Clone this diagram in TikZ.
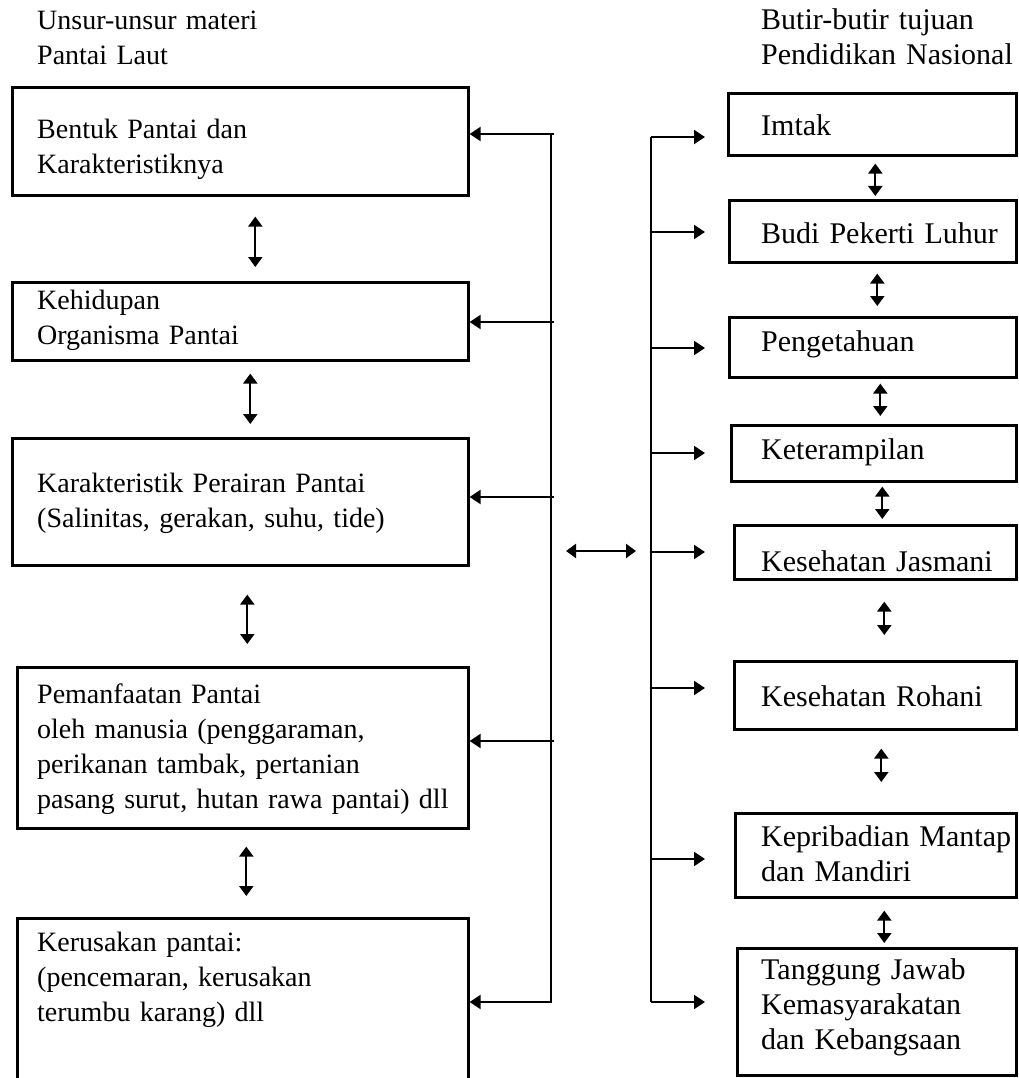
\documentclass[tikz,border=0pt]{standalone}
\usepackage{fontspec}
\setmainfont{Liberation Serif}
\usetikzlibrary{arrows.meta}

\tikzset{
  kotak/.style={draw, line width=2.6pt, anchor=north west, inner sep=0pt},
  teks/.style={anchor=base west, inner sep=0pt, text width=450pt, align=left},
  tekskiri/.style={teks, font=\fontsize{28}{35}\selectfont},
  tekskanan/.style={teks, font=\fontsize{30}{35}\selectfont},
  garis/.style={line width=2.2pt},
  pnh/.style={line width=2.2pt, -{Triangle[length=11pt,width=14pt]}},
  dua/.style={line width=2.2pt, {Triangle[length=10pt,width=14pt]}-{Triangle[length=10pt,width=14pt]}},
}

\begin{document}
\begin{tikzpicture}[x=1pt, y=-1pt]
  \useasboundingbox (0,0) rectangle (1018,1078);

  % judul kolom
  \node[tekskiri] (judul1) at (37,30) {Unsur-unsur materi\\Pantai Laut};
  \node[tekskanan] (judul2) at (761,30) {Butir-butir tujuan\\Pendidikan Nasional};

  % kotak kiri: unsur materi pantai laut
  \node[kotak, minimum width=456pt, minimum height=108pt] (b1) at (11,86) {};
  \node[kotak, minimum width=456pt, minimum height=78pt] (b2) at (11,281) {};
  \node[kotak, minimum width=456pt, minimum height=127pt] (b3) at (11,437) {};
  \node[kotak, minimum width=451pt, minimum height=161pt] (b4) at (16,666) {};
  \node[kotak, minimum width=451pt, minimum height=175pt] (b5) at (16,917) {};
  \node[tekskiri] (tb1) at (37,139) {Bentuk Pantai dan\\Karakteristiknya};
  \node[tekskiri] (tb2) at (37,309) {Kehidupan\\Organisma Pantai};
  \node[tekskiri] (tb3) at (37,492) {Karakteristik Perairan Pantai\\(Salinitas, gerakan, suhu, tide)};
  \node[tekskiri] (tb4) at (37,703) {Pemanfaatan Pantai\\oleh manusia (penggaraman,\\perikanan tambak, pertanian\\pasang surut, hutan rawa pantai) dll};
  \node[tekskiri] (tb5) at (37,951) {Kerusakan pantai:\\(pencemaran, kerusakan\\terumbu karang) dll};

  % kotak kanan: butir tujuan pendidikan
  \node[kotak, minimum width=288pt, minimum height=62pt] (r1) at (727,92) {};
  \node[kotak, minimum width=287pt, minimum height=62pt] (r2) at (728,199) {};
  \node[kotak, minimum width=287pt, minimum height=60pt] (r3) at (728,316) {};
  \node[kotak, minimum width=285pt, minimum height=56pt] (r4) at (730,424) {};
  \node[kotak, minimum width=282pt, minimum height=54pt] (r5) at (733,524) {};
  \node[kotak, minimum width=282pt, minimum height=68pt] (r6) at (733,660) {};
  \node[kotak, minimum width=281pt, minimum height=84pt] (r7) at (734,812) {};
  \node[kotak, minimum width=279pt, minimum height=127pt] (r8) at (736,947) {};
  \node[tekskanan] (tr1) at (761,136) {Imtak};
  \node[tekskanan] (tr2) at (761,243) {Budi Pekerti Luhur};
  \node[tekskanan] (tr3) at (761,351) {Pengetahuan};
  \node[tekskanan] (tr4) at (761,459) {Keterampilan};
  \node[tekskanan] (tr5) at (761,571) {Kesehatan Jasmani};
  \node[tekskanan] (tr6) at (761,706) {Kesehatan Rohani};
  \node[tekskanan] (tr7) at (761,846) {Kepribadian Mantap\\dan Mandiri};
  \node[tekskanan] (tr8) at (761,979) {Tanggung Jawab\\Kemasyarakatan\\dan Kebangsaan};

  % panah antar kotak kiri
  \draw[dua] ([xshift=15pt,yshift=-20pt]b1.south) -- ([xshift=15pt,yshift=14pt]b2.north);
  \draw[dua] ([xshift=10pt,yshift=-12pt]b2.south) -- ([xshift=10pt,yshift=13pt]b3.north);
  \draw[dua] ([xshift=7pt,yshift=-28pt]b3.south) -- ([xshift=4.5pt,yshift=22pt]b4.north);
  \draw[dua] ([xshift=3.5pt,yshift=-17pt]b4.south) -- ([xshift=3.5pt,yshift=21pt]b5.north);

  % panah antar kotak kanan
  \draw[dua] ([xshift=3pt,yshift=-7pt]r1.south) -- ([xshift=2.5pt,yshift=3pt]r2.north);
  \draw[dua] ([xshift=4.5pt,yshift=-10pt]r2.south) -- ([xshift=4.5pt,yshift=10pt]r3.north);
  \draw[dua] ([xshift=7.5pt,yshift=-5pt]r3.south) -- ([xshift=6.5pt,yshift=8pt]r4.north);
  \draw[dua] ([xshift=8.5pt,yshift=-4pt]r4.south) -- ([xshift=7pt,yshift=5pt]r5.north);
  \draw[dua] ([xshift=9pt,yshift=-21pt]r5.south) -- ([xshift=9pt,yshift=25pt]r6.north);
  \draw[dua] ([xshift=6pt,yshift=-18pt]r6.south) -- ([xshift=5.5pt,yshift=30pt]r7.north);
  \draw[dua] ([xshift=8.5pt,yshift=-12pt]r7.south) -- ([xshift=7.5pt,yshift=4pt]r8.north);

  % garis pengumpul kiri
  \coordinate (ka1) at (551,134);
  \coordinate (ka2) at (551,322);
  \coordinate (ka3) at (551,497);
  \coordinate (ka4) at (551,741);
  \coordinate (ka5) at (551,1002);
  \draw[pnh] (ka1) -- (ka5) -- (ka5 -| b5.east);
  \foreach \i in {1,...,4}
    \draw[pnh] ([xshift=3pt]ka\i) -- (ka\i -| b\i.east);

  % garis pengumpul kanan
  \coordinate (kn1) at (651,137);
  \coordinate (kn2) at (651,232);
  \coordinate (kn3) at (651,348);
  \coordinate (kn4) at (651,453);
  \coordinate (kn5) at (651,552);
  \coordinate (kn6) at (651,688);
  \coordinate (kn7) at (651,859);
  \coordinate (kn8) at (651,1002);
  \draw[garis] (kn1) -- (kn8);
  \foreach \i/\g in {1/22,2/23,3/23,4/25,5/28,6/28,7/29,8/31}
    \draw[pnh, shorten >=\g pt] (kn\i) -- (kn\i -| r\i.west);

  % panah tengah
  \coordinate (m1) at (551,551);
  \coordinate (m2) at (651,551);
  \draw[dua, shorten <=15pt, shorten >=15pt] (m1) -- (m2);
\end{tikzpicture}
\end{document}
